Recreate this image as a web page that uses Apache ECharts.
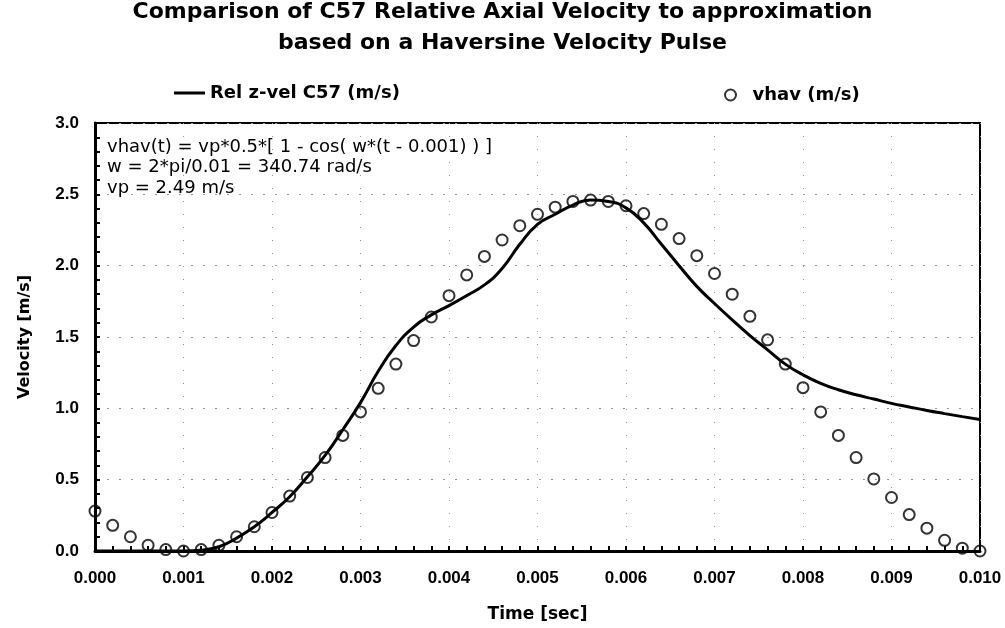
<!DOCTYPE html>
<html>
<head>
<meta charset="utf-8">
<script src="https://cdn.jsdelivr.net/npm/echarts@6/dist/echarts.min.js"></script>
<style>
  html, body { margin: 0; padding: 0; background: #fff; }
  #chart { width: 1005px; height: 628px; }
</style>
</head>
<body>
<div id="chart"></div>
<script>
// sample times (s), one every 0.0002 s
const timeSec = [
  0.0000, 0.0002, 0.0004, 0.0006, 0.0008, 0.0010, 0.0012, 0.0014, 0.0016, 0.0018,
  0.0020, 0.0022, 0.0024, 0.0026, 0.0028, 0.0030, 0.0032, 0.0034, 0.0036, 0.0038,
  0.0040, 0.0042, 0.0044, 0.0046, 0.0048, 0.0050, 0.0052, 0.0054, 0.0056, 0.0058,
  0.0060, 0.0062, 0.0064, 0.0066, 0.0068, 0.0070, 0.0072, 0.0074, 0.0076, 0.0078,
  0.0080, 0.0082, 0.0084, 0.0086, 0.0088, 0.0090, 0.0092, 0.0094, 0.0096, 0.0098,
  0.0100
];

// Rel z-vel C57 (m/s)
const relZVel = [
  0.00, 0.00, 0.00, 0.00, 0.00, 0.00, 0.005, 0.03, 0.09, 0.17,
  0.27, 0.38, 0.52, 0.67, 0.85, 1.04, 1.26, 1.44, 1.57, 1.655,
  1.72, 1.79, 1.865, 1.98, 2.15, 2.29, 2.36, 2.425, 2.46, 2.45,
  2.405, 2.30, 2.15, 2.00, 1.855, 1.735, 1.62, 1.51, 1.41, 1.31,
  1.235, 1.175, 1.13, 1.095, 1.065, 1.035, 1.01, 0.985, 0.963, 0.942,
  0.922
];

// vhav (m/s)
const vhav = [
  0.28, 0.18, 0.10, 0.04, 0.01, 0.00, 0.01, 0.04, 0.10, 0.17,
  0.27, 0.385, 0.515, 0.655, 0.81, 0.975, 1.14, 1.31, 1.475, 1.64,
  1.79, 1.935, 2.065, 2.18, 2.28, 2.36, 2.41, 2.45, 2.46, 2.45,
  2.42, 2.365, 2.29, 2.19, 2.07, 1.945, 1.80, 1.645, 1.48, 1.31,
  1.145, 0.975, 0.81, 0.655, 0.505, 0.375, 0.255, 0.16, 0.075, 0.02,
  0.00
];

const noteLines = [
  'vhav(t) = vp*0.5*[ 1 - cos( w*(t - 0.001) ) ]',
  'w = 2*pi/0.01 = 340.74 rad/s',
  'vp = 2.49 m/s'
];

const wide = 'DejaVu Sans';
const narrow = 'Liberation Sans, Arial, sans-serif';

const chart = echarts.init(document.getElementById('chart'));

const option = {
  backgroundColor: '#fff',
  animation: false,
  title: {
    text: 'Comparison of C57 Relative Axial Velocity to approximation\nbased on a Haversine Velocity Pulse',
    left: 'center',
    top: -3,
    padding: 0,
    textStyle: {
      fontFamily: wide,
      fontWeight: 'bold',
      fontSize: 22,
      lineHeight: 31,
      color: '#000'
    }
  },
  legend: [
    {
      data: [{ name: 'Rel z-vel C57 (m/s)', icon: 'rect' }],
      left: 169,
      top: 79,
      itemWidth: 31,
      itemHeight: 3,
      itemStyle: { color: '#000' },
      textStyle: { fontFamily: wide, fontWeight: 'bold', fontSize: 18, color: '#000' }
    },
    {
      data: [{ name: 'vhav (m/s)', icon: 'circle' }],
      left: 719,
      top: 81,
      itemWidth: 22,
      itemHeight: 11,
      itemStyle: { color: 'rgba(0,0,0,0)', borderColor: '#000', borderWidth: 2 },
      textStyle: { fontFamily: wide, fontWeight: 'bold', fontSize: 18, color: '#000', padding: [0, 0, 0, 6] }
    }
  ],
  grid: {
    left: 95,
    right: 25,
    top: 123,
    bottom: 75,
    show: true,
    borderColor: '#000',
    borderWidth: 2
  },
  xAxis: {
    type: 'value',
    min: 0,
    max: 0.01,
    interval: 0.001,
    name: 'Time [sec]',
    nameLocation: 'middle',
    nameGap: 55,
    nameTextStyle: { fontFamily: wide, fontWeight: 'bold', fontSize: 17, color: '#000' },
    axisLine: { lineStyle: { color: '#000', width: 3 } },
    axisTick: { inside: true, length: 5, lineStyle: { color: '#000', width: 2 } },
    minorTick: { show: true, splitNumber: 5, length: 5, lineStyle: { color: '#000', width: 2 } },
    axisLabel: {
      margin: 19,
      fontFamily: narrow,
      fontWeight: 'bold',
      fontSize: 17,
      color: '#000',
      formatter: v => v.toFixed(3)
    },
    splitLine: { show: true, lineStyle: { color: '#999', width: 1, type: [1, 12] } }
  },
  yAxis: {
    type: 'value',
    min: 0,
    max: 3,
    interval: 0.5,
    name: 'Velocity [m/s]',
    nameLocation: 'middle',
    nameGap: 62,
    nameRotate: 90,
    nameTextStyle: { fontFamily: wide, fontWeight: 'bold', fontSize: 16, color: '#000' },
    axisLine: { lineStyle: { color: '#000', width: 3 } },
    axisTick: { inside: true, length: 5, lineStyle: { color: '#000', width: 2 } },
    minorTick: { show: true, splitNumber: 5, length: 5, lineStyle: { color: '#000', width: 2 } },
    axisLabel: {
      margin: 16,
      fontFamily: narrow,
      fontWeight: 'bold',
      fontSize: 17,
      color: '#000',
      formatter: v => v.toFixed(1)
    },
    splitLine: { show: true, lineStyle: { color: '#999', width: 1, type: [2, 10] } }
  },
  graphic: [
    {
      type: 'text',
      left: 107,
      top: 137,
      z: 10,
      style: {
        text: noteLines.join('\n'),
        fontFamily: wide,
        fontSize: 18,
        lineHeight: 20.5,
        fill: '#000'
      }
    }
  ],
  series: [
    {
      name: 'Rel z-vel C57 (m/s)',
      type: 'line',
      data: timeSec.map((t, i) => [t, relZVel[i]]),
      smooth: 0.5,
      showSymbol: false,
      symbol: 'none',
      lineStyle: { color: '#000', width: 3 },
      itemStyle: { color: '#000' },
      z: 3
    },
    {
      name: 'vhav (m/s)',
      type: 'scatter',
      data: timeSec.map((t, i) => [t, vhav[i]]),
      symbol: 'circle',
      symbolSize: 11,
      clip: false,
      itemStyle: { color: 'rgba(0,0,0,0)', borderColor: '#000', borderWidth: 2 },
      z: 4
    }
  ]
};

chart.setOption(option);
window.addEventListener('resize', () => chart.resize());
</script>
</body>
</html>
